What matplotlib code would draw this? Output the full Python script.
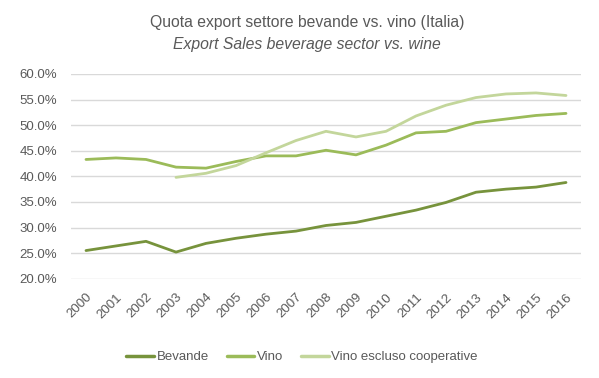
import matplotlib
matplotlib.use("Agg")
import matplotlib.pyplot as plt
from matplotlib.ticker import FuncFormatter

years = [str(y) for y in range(2000, 2017)]
bevande = [25.5, 26.4, 27.3, 25.2, 26.9, 27.9, 28.7, 29.3, 30.4, 31.0, 32.2, 33.4, 34.9, 36.9, 37.5, 37.9, 38.8]
vino = [43.3, 43.6, 43.3, 41.8, 41.6, 42.9, 44.0, 44.0, 45.1, 44.2, 46.1, 48.5, 48.8, 50.5, 51.2, 51.9, 52.3]
vino_escl = [None, None, None, 39.8, 40.6, 42.1, 44.6, 47.0, 48.8, 47.7, 48.8, 51.8, 53.9, 55.4, 56.1, 56.3, 55.8]
series_names = ["Bevande", "Vino", "Vino escluso cooperative"]
colors = ["#77933C", "#9BBB59", "#C3D69B"]

title1 = "Quota export settore bevande vs. vino (Italia)"
title2 = "Export Sales beverage sector vs. wine"

fig = plt.figure(figsize=(5.99, 3.78), dpi=100)
ax = fig.add_axes([71/599, 1-278.7/378, 510/599, (278.7-74)/378])

x = list(range(len(years)))
for vals, name, c in zip([bevande, vino, vino_escl], series_names, colors):
    xs = [i for i, v in zip(x, vals) if v is not None]
    ys = [v for v in vals if v is not None]
    ax.plot(xs, ys, color=c, lw=2.0, label=name, solid_capstyle="round", solid_joinstyle="round", zorder=3)

ax.set_xlim(-0.5, len(years) - 0.5)
ax.set_ylim(20, 60)
ax.set_yticks(range(20, 61, 5))
ax.yaxis.set_major_formatter(FuncFormatter(lambda v, p: f"{v:.1f}%"))
ax.set_xticks(x)
ax.set_xticklabels(years, rotation=45, ha="right", rotation_mode="anchor")
ax.grid(axis="y", color="#D9D9D9", lw=1.0, zorder=0)
for s in ax.spines.values():
    s.set_visible(False)
ax.tick_params(axis="both", length=0, colors="#595959", labelsize=9.5)
ax.tick_params(axis="y", pad=10)
ax.tick_params(axis="x", pad=9)
for lab in ax.get_xticklabels() + ax.get_yticklabels():
    lab.set_fontfamily("Liberation Sans")

tfam = ["Liberation Sans", "DejaVu Sans"]
fig.text(307/599, 1-23/378, title1, ha="center", va="center", fontsize=11.3, color="#595959", family=tfam)
fig.text(307/599, 1-45/378, title2, ha="center", va="center", fontsize=11.3, color="#595959", style="italic", family=tfam)

leg = fig.legend(loc="center", bbox_to_anchor=(302/599, 1-357/378), ncol=3, frameon=False,
                 handlelength=2.1, handletextpad=0.2, columnspacing=1.35,
                 prop={"family": "Liberation Sans", "size": 9.5})
for t in leg.get_texts():
    t.set_color("#595959")
for h in leg.get_lines():
    h.set_linewidth(2.5)

fig.savefig("out.png", dpi=100)
